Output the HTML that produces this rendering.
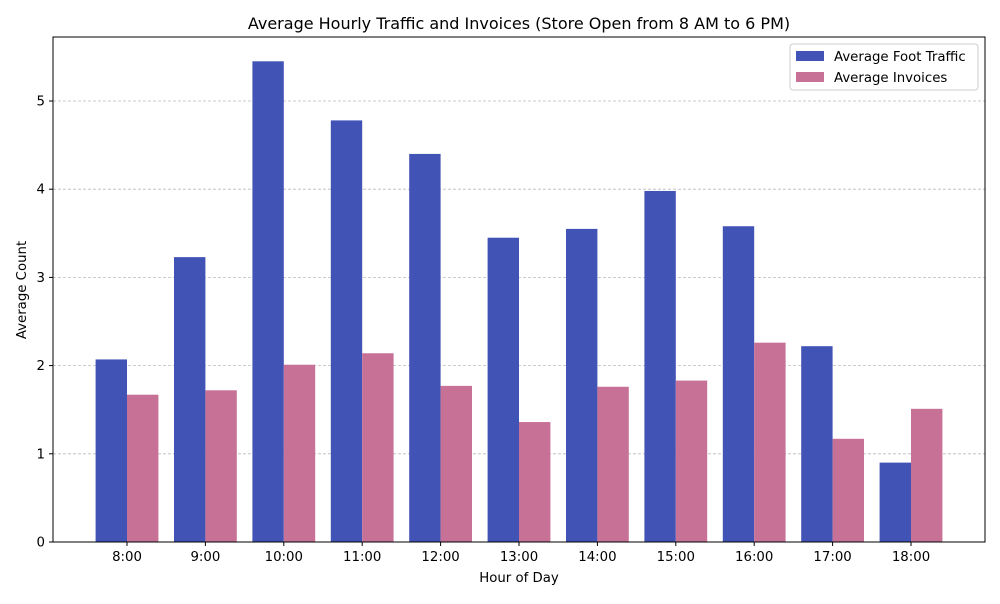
<!DOCTYPE html>
<html><head><meta charset="utf-8"><style>
body{margin:0;background:#fff;font-family:"DejaVu Sans","Liberation Sans",sans-serif}
svg text{font-family:"DejaVu Sans","Liberation Sans",sans-serif;fill:#000}
</style></head><body>
<svg id="chart" width="1000" height="600">
<text x="519" y="29" font-size="16" text-anchor="middle">Average Hourly Traffic and Invoices (Store Open from 8 AM to 6 PM)</text>
<g id="grid"></g><g id="bars"></g><g id="ticks"></g>
<rect x="53" y="37" width="932" height="505" fill="none" stroke="#000" stroke-width="1"/>
<text x="519" y="582" font-size="13.3" text-anchor="middle">Hour of Day</text>
<text transform="translate(26,290) rotate(-90)" font-size="13.3" text-anchor="middle">Average Count</text>
<g>
<rect x="790" y="44" width="188" height="46" fill="#fff" fill-opacity="0.8" stroke="#ccc" rx="3"/>
<g><rect x="796" y="51" width="28" height="10" fill="#4253b6"/><text x="834" y="61" font-size="13.3">Average Foot Traffic</text></g>
<g><rect x="796" y="72" width="28" height="10" fill="#c77196"/><text x="834" y="82" font-size="13.3">Average Invoices</text></g>
</g>
</svg>
<script>
const categories=["8:00","9:00","10:00","11:00","12:00","13:00","14:00","15:00","16:00","17:00","18:00"];
const footTraffic=[2.07,3.23,5.45,4.78,4.40,3.45,3.55,3.98,3.58,2.22,0.90];
const invoices=[1.67,1.72,2.01,2.14,1.77,1.36,1.76,1.83,2.26,1.17,1.51];
const yTicks=[0,1,2,3,4,5];
const ns="http://www.w3.org/2000/svg";
const x=i=>127+i*78.4;
const y=v=>542-v*88.2;
const bw=31.4;
function mk(t,a,p){const e=document.createElementNS(ns,t);for(const k in a)e.setAttribute(k,a[k]);p.appendChild(e);return e;}
const grid=document.getElementById('grid'),bars=document.getElementById('bars'),ticks=document.getElementById('ticks');
yTicks.forEach(v=>{
 if(v>0){const g=mk('line',{x1:53,x2:985,y1:y(v),y2:y(v),stroke:'#bbb','stroke-width':0.8,'stroke-dasharray':'3,2'},grid);
 
 }
 mk('line',{x1:49,x2:53,y1:y(v),y2:y(v),stroke:'#000'},ticks);
 const t=mk('text',{x:45,y:y(v)+4.5,'font-size':13.3,'text-anchor':'end'},ticks);t.textContent=v;
 
 
});
categories.forEach((c,i)=>{
 const b1=mk('rect',{x:x(i)-bw,y:y(footTraffic[i]),width:bw,height:footTraffic[i]*88.2,fill:'#4253b6'},bars);
 
 
 const b2=mk('rect',{x:x(i),y:y(invoices[i]),width:bw,height:invoices[i]*88.2,fill:'#c77196'},bars);
 
 
 mk('line',{x1:x(i),x2:x(i),y1:542,y2:546,stroke:'#000'},ticks);
 const t=mk('text',{x:x(i),y:561,'font-size':13.3,'text-anchor':'middle'},ticks);t.textContent=c;
 
 
});
</script>
</body></html>
